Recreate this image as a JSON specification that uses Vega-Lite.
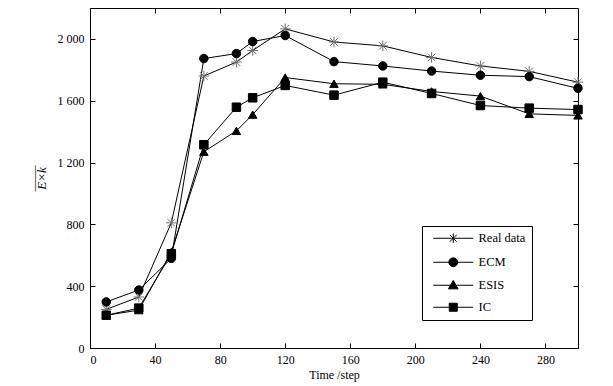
{
  "$schema": "https://vega.github.io/schema/vega-lite/v6.json",
  "width": 488,
  "height": 340,
  "autosize": {"type": "none"},
  "padding": {"left": 90, "top": 8, "right": 35, "bottom": 38},
  "background": "white",
  "config": {
    "view": {"stroke": "black", "strokeWidth": 1},
    "font": "Liberation Serif",
    "axis": {
      "grid": false,
      "domainColor": "black",
      "tickColor": "black",
      "tickSize": -5,
      "labelFont": "Liberation Serif",
      "labelFontSize": 12,
      "labelColor": "black",
      "titleFont": "Liberation Serif",
      "titleFontSize": 12,
      "titleFontWeight": "normal",
      "titleColor": "black"
    }
  },
  "data": {
    "values": [
      {"step": 10, "value": 250, "series": "Real data"},
      {"step": 30, "value": 330, "series": "Real data"},
      {"step": 50, "value": 810, "series": "Real data"},
      {"step": 70, "value": 1760, "series": "Real data"},
      {"step": 90, "value": 1850, "series": "Real data"},
      {"step": 100, "value": 1925, "series": "Real data"},
      {"step": 120, "value": 2065, "series": "Real data"},
      {"step": 150, "value": 1980, "series": "Real data"},
      {"step": 180, "value": 1955, "series": "Real data"},
      {"step": 210, "value": 1880, "series": "Real data"},
      {"step": 240, "value": 1825, "series": "Real data"},
      {"step": 270, "value": 1790, "series": "Real data"},
      {"step": 300, "value": 1720, "series": "Real data"},
      {"step": 10, "value": 298, "series": "ECM"},
      {"step": 30, "value": 375, "series": "ECM"},
      {"step": 50, "value": 580, "series": "ECM"},
      {"step": 70, "value": 1873, "series": "ECM"},
      {"step": 90, "value": 1905, "series": "ECM"},
      {"step": 100, "value": 1983, "series": "ECM"},
      {"step": 120, "value": 2022, "series": "ECM"},
      {"step": 150, "value": 1853, "series": "ECM"},
      {"step": 180, "value": 1825, "series": "ECM"},
      {"step": 210, "value": 1792, "series": "ECM"},
      {"step": 240, "value": 1765, "series": "ECM"},
      {"step": 270, "value": 1756, "series": "ECM"},
      {"step": 300, "value": 1680, "series": "ECM"},
      {"step": 10, "value": 212, "series": "ESIS"},
      {"step": 30, "value": 245, "series": "ESIS"},
      {"step": 50, "value": 622, "series": "ESIS"},
      {"step": 70, "value": 1270, "series": "ESIS"},
      {"step": 90, "value": 1405, "series": "ESIS"},
      {"step": 100, "value": 1510, "series": "ESIS"},
      {"step": 120, "value": 1750, "series": "ESIS"},
      {"step": 150, "value": 1710, "series": "ESIS"},
      {"step": 180, "value": 1706, "series": "ESIS"},
      {"step": 210, "value": 1660, "series": "ESIS"},
      {"step": 240, "value": 1630, "series": "ESIS"},
      {"step": 270, "value": 1515, "series": "ESIS"},
      {"step": 300, "value": 1505, "series": "ESIS"},
      {"step": 10, "value": 212, "series": "IC"},
      {"step": 30, "value": 258, "series": "IC"},
      {"step": 50, "value": 610, "series": "IC"},
      {"step": 70, "value": 1315, "series": "IC"},
      {"step": 90, "value": 1558, "series": "IC"},
      {"step": 100, "value": 1619, "series": "IC"},
      {"step": 120, "value": 1699, "series": "IC"},
      {"step": 150, "value": 1636, "series": "IC"},
      {"step": 180, "value": 1720, "series": "IC"},
      {"step": 210, "value": 1647, "series": "IC"},
      {"step": 240, "value": 1569, "series": "IC"},
      {"step": 270, "value": 1552, "series": "IC"},
      {"step": 300, "value": 1543, "series": "IC"}
    ]
  },
  "layer": [
    {
      "mark": {"type": "line", "color": "black", "strokeWidth": 1},
      "encoding": {
        "x": {
          "field": "step", "type": "quantitative",
          "scale": {"domain": [0, 300], "nice": false},
          "axis": {
            "orient": "bottom",
            "values": [0, 40, 80, 120, 160, 200, 240, 280],
            "title": "Time /step",
            "labelPadding": 11,
            "titlePadding": 4
          }
        },
        "y": {
          "field": "value", "type": "quantitative",
          "scale": {"domain": [0, 2200], "nice": false},
          "axis": {
            "orient": "left",
            "values": [0, 400, 800, 1200, 1600, 2000],
            "labelExpr": "replace(format(datum.value, ',d'), ',', ' ')",
            "title": ["____", "E×k"],
            "titleFontStyle": "italic",
            "titleFontSize": 13,
            "titleLineHeight": 12,
            "labelPadding": 11,
            "titlePadding": 9
          }
        },
        "detail": {"field": "series", "type": "nominal"}
      }
    },
    {
      "mark": {"type": "point", "filled": true, "fill": "black", "size": 72, "strokeWidth": 1, "opacity": 1},
      "encoding": {
        "x": {
          "field": "step", "type": "quantitative",
          "axis": {"orient": "top", "values": [0, 40, 80, 120, 160, 200, 240, 280], "labels": false, "title": null, "domain": false}
        },
        "y": {
          "field": "value", "type": "quantitative",
          "axis": {"orient": "right", "values": [0, 400, 800, 1200, 1600, 2000], "labels": false, "title": null, "domain": false}
        },
        "stroke": {"condition": {"test": "datum.series === 'Real data'", "value": "#707070"}, "value": "black"},
        "shape": {
          "field": "series", "type": "nominal",
          "scale": {
            "domain": ["Real data", "ECM", "ESIS", "IC"],
            "range": ["M-1.25,0L1.25,0M0,-1.25L0,1.25M-0.9,-0.9L0.9,0.9M-0.9,0.9L0.9,-0.9", "circle", "triangle-up", "square"]
          },
          "legend": null
        }
      }
    },
    {
      "mark": {"type": "point", "filled": true, "fill": "black", "stroke": "black", "size": 0, "strokeWidth": 1, "opacity": 1},
      "encoding": {
        "x": {"field": "step", "type": "quantitative", "axis": null},
        "y": {"field": "value", "type": "quantitative", "axis": null},
        "shape": {
          "field": "series", "type": "nominal",
          "scale": {
            "domain": ["Real data", "ECM", "ESIS", "IC"],
            "range": [
              "M-5,0L5,0M0,-1.2L0,1.2M-0.85,-0.85L0.85,0.85M-0.85,0.85L0.85,-0.85",
              "M-5,0L5,0M1.1,0L1.016,0.421L0.778,0.778L0.421,1.016L0,1.1L-0.421,1.016L-0.778,0.778L-1.016,0.421L-1.1,0L-1.016,-0.421L-0.778,-0.778L-0.421,-1.016L0,-1.1L0.421,-1.016L0.778,-0.778L1.016,-0.421Z",
              "M-5,0L5,0M0,-1.2L1.2,0.9L-1.2,0.9Z",
              "M-5,0L5,0M-1,-1L1,-1L1,1L-1,1Z"
            ]
          },
          "legend": {
            "orient": "none",
            "legendX": 332,
            "legendY": 218,
            "title": null,
            "strokeColor": "black",
            "padding": 6,
            "symbolOffset": 19,
            "labelOffset": 19,
            "rowPadding": 9,
            "symbolSize": 64,
            "symbolStrokeWidth": 1,
            "labelFont": "Liberation Serif",
            "labelFontSize": 12.5,
            "labelColor": "black",
            "labelExpr": "datum.label + '\u00a0\u00a0\u00a0\u00a0\u00a0\u00a0\u00a0\u00a0'"
          }
        }
      }
    }
  ],
  "resolve": {
    "axis": {"x": "independent", "y": "independent"},
    "scale": {"shape": "independent"},
    "legend": {"shape": "independent"}
  }
}
